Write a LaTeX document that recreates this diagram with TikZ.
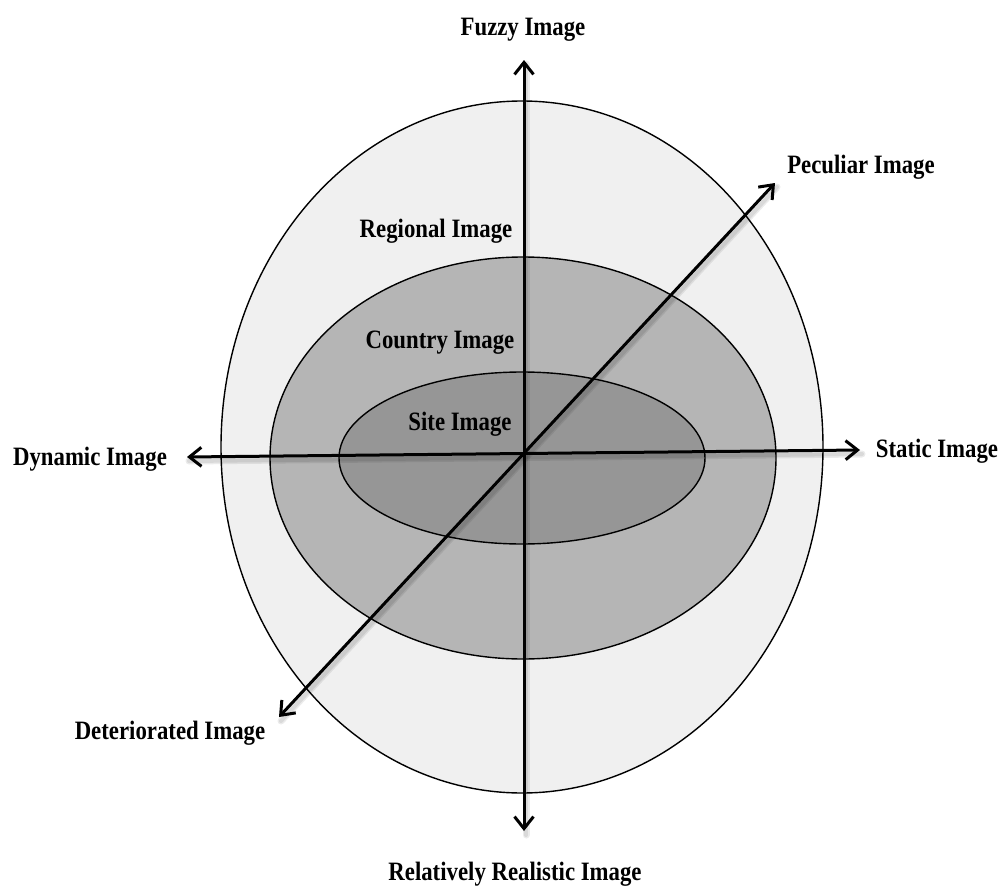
\documentclass[tikz,border=0pt]{standalone}
\usepackage{fontspec}
\setmainfont{Liberation Serif}[FakeStretch=0.86]
\usetikzlibrary{arrows.meta}
\definecolor{outerfill}{gray}{0.94}
\definecolor{midfill}{gray}{0.71}
\definecolor{innerfill}{gray}{0.59}
\begin{document}
\begin{tikzpicture}[x=1pt,y=-1pt,
  lbl/.style={font=\bfseries\fontsize{26.5}{28}\selectfont, inner sep=0pt, anchor=base},
  ring/.style={draw=black, line width=1.4pt},
  axis/.style={line width=3pt, {Straight Barb[length=12pt,width=19pt]}-{Straight Barb[length=12pt,width=19pt]}},
  axisshadow/.style={line width=#1, black, opacity=0.08, line cap=round}]
\useasboundingbox (0,0) rectangle (1005,886);

% nested image regions
\filldraw[ring, fill=outerfill] (522,447) ellipse [x radius=301, y radius=346];
\filldraw[ring, fill=midfill]   (523,458) ellipse [x radius=253, y radius=201];
\filldraw[ring, fill=innerfill] (522,458) ellipse [x radius=183, y radius=86];

% axis end points
\coordinate (up)    at (524,60);
\coordinate (down)  at (524,831);
\coordinate (left)  at (187,457);
\coordinate (right) at (860,450);
\coordinate (ne)    at (775,183);
\coordinate (sw)    at (279,717);

% soft shadows under the axes
\foreach \w in {7pt,4pt}{
  \draw[axisshadow=\w] ([shift={(2,4)}]up) -- ([shift={(2,4)}]down);
  \draw[axisshadow=\w] ([shift={(2,4)}]left) -- ([shift={(2,4)}]right);
  \draw[axisshadow=\w] ([shift={(2,4)}]sw) -- ([shift={(2,4)}]ne);
}

% axes
\draw[axis] (down) -- (up);
\draw[axis] (left) -- (right);
\draw[axis] (sw) -- (ne);

% labels
\node[lbl] (fuzzy)    at (523,35)  {Fuzzy Image};
\node[lbl] (peculiar) at (861,173) {Peculiar Image};
\node[lbl] (regional) at (436,237) {Regional Image};
\node[lbl] (country)  at (440,348) {Country Image};
\node[lbl] (site)     at (460,430) {Site Image};
\node[lbl] (static)   at (937,457) {Static Image};
\node[lbl] (dynamic)  at (90,465)  {Dynamic Image};
\node[lbl] (deter)    at (170,739) {Deteriorated Image};
\node[lbl] (real)     at (515,880) {Relatively Realistic Image};
\end{tikzpicture}
\end{document}
